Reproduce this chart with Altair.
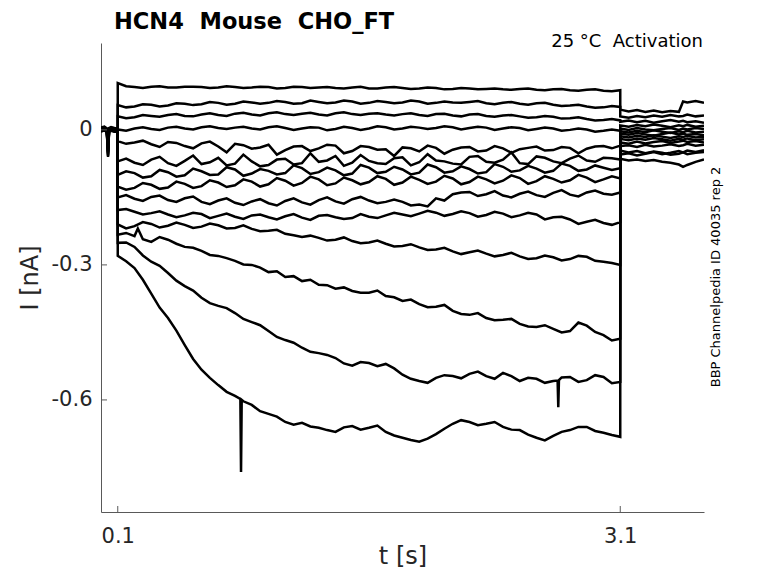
import altair as alt
import pandas as pd

# ---- time bases (s) ----
HOLD_T = [0.0, 0.02, 0.035, 0.042, 0.048, 0.06, 0.08, 0.1]
STEP_T = [0.1, 0.2, 0.3, 0.4, 0.5, 0.6, 0.7, 0.8, 0.9, 1.0, 1.1, 1.2, 1.3, 1.4, 1.5, 1.6,
          1.7, 1.8, 1.9, 2.0, 2.1, 2.2, 2.3, 2.4, 2.5, 2.6, 2.7, 2.8, 2.9, 3.0, 3.1]
MID_T = [0.15, 0.25, 0.35, 0.45, 0.55, 0.65, 0.75, 0.85, 0.95, 1.05, 1.15, 1.25, 1.35, 1.45, 1.55,
         1.65, 1.75, 1.85, 1.95, 2.05, 2.15, 2.25, 2.35, 2.45, 2.55, 2.65, 2.75, 2.85, 2.95, 3.05]
TAIL_T = [3.1, 3.15, 3.2, 3.25, 3.3, 3.35, 3.4, 3.45, 3.475, 3.5, 3.55, 3.6]

# ---- current traces (nA) ----
T1_HOLD = [0.005, 0.007, 0.003, -0.022, 0.004, 0.006, 0.004, 0.003]
T1_STEP = [0.104, 0.095, 0.096, 0.094, 0.096, 0.095, 0.094, 0.095, 0.094, 0.095, 0.093, 0.095, 0.094, 0.093, 0.094, 0.092,
           0.094, 0.093, 0.092, 0.093, 0.091, 0.092, 0.091, 0.090, 0.091, 0.089, 0.090, 0.088, 0.089, 0.087, 0.088]
T1_MID = [0.097, 0.093, 0.097, 0.094, 0.096, 0.093, 0.097, 0.093, 0.096, 0.092, 0.096, 0.093, 0.095, 0.092, 0.096,
          0.092, 0.095, 0.091, 0.094, 0.090, 0.093, 0.090, 0.092, 0.089, 0.092, 0.088, 0.091, 0.087, 0.090, 0.086]
T1_TAIL = [0.045, 0.041, 0.044, 0.040, 0.043, 0.039, 0.042, 0.040, 0.063, 0.061, 0.064, 0.060]

T2_HOLD = [0.003, 0.005, 0.002, -0.028, 0.002, 0.004, 0.003, 0.002]
T2_STEP = [0.055, 0.052, 0.056, 0.054, 0.058, 0.057, 0.060, 0.058, 0.061, 0.060, 0.062, 0.059, 0.062, 0.061, 0.063, 0.060,
           0.062, 0.061, 0.063, 0.060, 0.061, 0.062, 0.059, 0.060, 0.058, 0.059, 0.056, 0.054, 0.052, 0.050, 0.051]
T2_MID = [0.050, 0.057, 0.052, 0.059, 0.055, 0.062, 0.056, 0.063, 0.058, 0.064, 0.058, 0.065, 0.059, 0.065, 0.058,
          0.064, 0.059, 0.065, 0.058, 0.063, 0.060, 0.064, 0.057, 0.062, 0.056, 0.060, 0.053, 0.056, 0.049, 0.053]
T2_TAIL = [0.030, 0.027, 0.031, 0.028, 0.032, 0.029, 0.033, 0.030, 0.031, 0.034, 0.030, 0.032]

T3_HOLD = [0.002, 0.004, 0.000, -0.034, 0.001, 0.003, 0.001, 0.001]
T3_STEP = [0.030, 0.028, 0.031, 0.033, 0.031, 0.034, 0.033, 0.036, 0.034, 0.037, 0.035, 0.036, 0.034, 0.037, 0.035, 0.036,
           0.034, 0.035, 0.033, 0.035, 0.032, 0.034, 0.031, 0.032, 0.030, 0.028, 0.029, 0.026, 0.024, 0.022, 0.021]
T3_MID = [0.026, 0.033, 0.029, 0.035, 0.030, 0.037, 0.031, 0.038, 0.032, 0.039, 0.033, 0.038, 0.032, 0.039, 0.033,
          0.037, 0.032, 0.037, 0.031, 0.036, 0.030, 0.035, 0.029, 0.033, 0.027, 0.031, 0.025, 0.028, 0.021, 0.024]
T3_TAIL = [0.018, 0.021, 0.017, 0.020, 0.016, 0.019, 0.022, 0.018, 0.020, 0.017, 0.019, 0.016]

T4_HOLD = [0.001, 0.002, -0.001, -0.040, 0.000, 0.002, 0.000, 0.000]
T4_STEP = [0.001, 0.003, 0.002, 0.005, 0.003, 0.006, 0.004, 0.005, 0.003, 0.006, 0.004, 0.003, 0.005, 0.002, 0.004, 0.003,
           0.006, 0.003, 0.005, 0.004, 0.006, 0.004, 0.005, 0.003, 0.004, 0.002, 0.003, 0.000, 0.001, -0.002, -0.002]
T4_MID = [-0.002, 0.006, 0.000, 0.007, 0.001, 0.008, 0.002, 0.007, 0.001, 0.008, 0.000, 0.006, -0.001, 0.007, 0.000,
          0.008, 0.001, 0.007, 0.002, 0.008, 0.001, 0.007, 0.000, 0.006, -0.001, 0.005, -0.002, 0.003, -0.004, 0.001]
T4_TAIL = [0.010, 0.007, 0.011, 0.008, 0.012, 0.009, 0.006, 0.010, 0.008, 0.011, 0.007, 0.009]

T5_HOLD = [0.000, 0.001, -0.002, -0.046, -0.001, 0.001, -0.001, -0.001]
T5_STEP = [-0.025, -0.028, -0.032, -0.027, -0.036, -0.030, -0.037, -0.031, -0.042, -0.033, -0.045, -0.036, -0.041, -0.035, -0.047, -0.038,
           -0.043, -0.039, -0.048, -0.040, -0.044, -0.038, -0.046, -0.041, -0.043, -0.037, -0.045, -0.040, -0.042, -0.036, -0.035]
T5_MID = [-0.031, -0.024, -0.038, -0.029, -0.041, -0.026, -0.050, -0.034, -0.039, -0.055, -0.037, -0.047, -0.033, -0.052, -0.036,
          -0.044, -0.058, -0.041, -0.035, -0.053, -0.039, -0.048, -0.036, -0.051, -0.040, -0.046, -0.038, -0.052, -0.037, -0.041]
T5_TAIL = [0.003, 0.000, 0.004, 0.001, -0.001, 0.002, 0.004, 0.000, 0.003, 0.001, 0.004, 0.002]

T6_HOLD = [-0.001, 0.000, -0.003, -0.052, -0.002, 0.000, -0.002, -0.002]
T6_STEP = [-0.070, -0.073, -0.066, -0.074, -0.069, -0.076, -0.062, -0.075, -0.070, -0.078, -0.064, -0.074, -0.071, -0.058, -0.073, -0.069,
           -0.076, -0.061, -0.072, -0.068, -0.075, -0.060, -0.071, -0.066, -0.074, -0.059, -0.070, -0.064, -0.068, -0.062, -0.066]
T6_MID = [-0.064, -0.078, -0.060, -0.080, -0.057, -0.072, -0.079, -0.055, -0.081, -0.066, -0.077, -0.052, -0.068, -0.080, -0.056,
          -0.074, -0.063, -0.079, -0.054, -0.070, -0.077, -0.058, -0.073, -0.050, -0.076, -0.062, -0.074, -0.057, -0.071, -0.063]
T6_TAIL = [-0.003, -0.006, -0.002, -0.005, -0.001, -0.004, -0.007, -0.003, -0.005, -0.002, -0.006, -0.004]

T7_HOLD = [-0.002, -0.001, -0.004, -0.058, -0.003, -0.001, -0.003, -0.003]
T7_STEP = [-0.100, -0.096, -0.103, -0.094, -0.101, -0.092, -0.099, -0.088, -0.097, -0.091, -0.096, -0.085, -0.094, -0.090, -0.097, -0.084,
           -0.093, -0.088, -0.095, -0.083, -0.092, -0.087, -0.094, -0.082, -0.090, -0.086, -0.091, -0.080, -0.088, -0.084, -0.085]
T7_MID = [-0.092, -0.106, -0.089, -0.104, -0.086, -0.100, -0.083, -0.102, -0.087, -0.099, -0.079, -0.098, -0.084, -0.101, -0.078,
          -0.096, -0.082, -0.099, -0.077, -0.095, -0.081, -0.097, -0.076, -0.093, -0.080, -0.095, -0.075, -0.091, -0.079, -0.089]
T7_TAIL = [-0.008, -0.011, -0.007, -0.010, -0.013, -0.009, -0.006, -0.010, -0.008, -0.011, -0.009, -0.012]

T8_HOLD = [0.004, 0.006, 0.002, -0.025, 0.003, 0.005, 0.002, 0.002]
T8_STEP = [-0.126, -0.129, -0.122, -0.128, -0.120, -0.125, -0.117, -0.123, -0.115, -0.121, -0.113, -0.118, -0.110, -0.119, -0.112, -0.116,
           -0.109, -0.117, -0.111, -0.115, -0.108, -0.116, -0.110, -0.113, -0.107, -0.114, -0.109, -0.112, -0.106, -0.110, -0.108]
T8_MID = [-0.133, -0.118, -0.131, -0.115, -0.129, -0.112, -0.127, -0.110, -0.126, -0.107, -0.124, -0.104, -0.123, -0.106, -0.121,
          -0.103, -0.122, -0.104, -0.120, -0.102, -0.121, -0.104, -0.119, -0.101, -0.120, -0.103, -0.117, -0.100, -0.116, -0.103]
T8_TAIL = [-0.014, -0.017, -0.013, -0.016, -0.012, -0.015, -0.018, -0.014, -0.016, -0.013, -0.017, -0.015]

T9_HOLD = [0.002, 0.004, 0.001, -0.031, 0.002, 0.003, 0.001, 0.001]
T9_STEP = [-0.150, -0.153, -0.149, -0.156, -0.152, -0.160, -0.157, -0.162, -0.159, -0.163, -0.158, -0.161, -0.156, -0.159, -0.154, -0.157,
           -0.160, -0.160, -0.166, -0.152, -0.143, -0.138, -0.143, -0.146, -0.142, -0.145, -0.140, -0.144, -0.139, -0.142, -0.139]
T9_MID = [-0.145, -0.158, -0.146, -0.160, -0.148, -0.165, -0.152, -0.167, -0.154, -0.168, -0.152, -0.166, -0.150, -0.164, -0.149,
          -0.163, -0.155, -0.168, -0.170, -0.157, -0.139, -0.147, -0.136, -0.150, -0.137, -0.149, -0.134, -0.148, -0.135, -0.144]
T9_TAIL = [-0.020, -0.023, -0.019, -0.022, -0.018, -0.021, -0.024, -0.020, -0.022, -0.019, -0.023, -0.021]

T10_HOLD = [0.000, 0.003, -0.001, -0.037, 0.001, 0.002, 0.000, 0.000]
T10_STEP = [-0.178, -0.182, -0.185, -0.188, -0.190, -0.187, -0.191, -0.193, -0.190, -0.194, -0.192, -0.195, -0.191, -0.194, -0.196, -0.193,
            -0.190, -0.188, -0.186, -0.184, -0.187, -0.185, -0.189, -0.186, -0.190, -0.188, -0.194, -0.199, -0.204, -0.207, -0.205]
T10_MID = [-0.176, -0.188, -0.181, -0.194, -0.184, -0.196, -0.186, -0.198, -0.188, -0.199, -0.187, -0.200, -0.189, -0.198, -0.187,
           -0.196, -0.184, -0.192, -0.180, -0.191, -0.181, -0.193, -0.182, -0.194, -0.184, -0.199, -0.193, -0.209, -0.200, -0.211]
T10_TAIL = [-0.028, -0.031, -0.026, -0.030, -0.027, -0.025, -0.029, -0.026, -0.024, -0.027, -0.025, -0.028]

T11_HOLD = [-0.001, 0.002, -0.002, -0.043, 0.000, 0.001, -0.001, -0.001]
T11_STEP = [-0.210, -0.214, -0.209, -0.213, -0.211, -0.215, -0.212, -0.218, -0.220, -0.224, -0.231, -0.238, -0.240, -0.244, -0.247, -0.250,
            -0.253, -0.258, -0.261, -0.266, -0.270, -0.272, -0.275, -0.278, -0.281, -0.285, -0.283, -0.287, -0.282, -0.293, -0.300]
T11_MID = [-0.219, -0.205, -0.217, -0.206, -0.218, -0.208, -0.219, -0.212, -0.225, -0.222, -0.234, -0.235, -0.246, -0.239, -0.252,
           -0.246, -0.259, -0.254, -0.267, -0.262, -0.276, -0.268, -0.281, -0.273, -0.287, -0.279, -0.290, -0.280, -0.291, -0.296]
T11_TAIL = [-0.036, -0.034, -0.038, -0.033, -0.037, -0.035, -0.032, -0.036, -0.034, -0.031, -0.035, -0.033]

T12_HOLD = [-0.002, 0.001, -0.003, -0.049, -0.001, 0.000, -0.002, -0.002]
T12_STEP = [-0.233, -0.236, -0.249, -0.244, -0.260, -0.269, -0.280, -0.291, -0.300, -0.316, -0.327, -0.336, -0.344, -0.353, -0.358, -0.362,
            -0.369, -0.380, -0.387, -0.393, -0.402, -0.411, -0.418, -0.422, -0.431, -0.438, -0.442, -0.447, -0.435, -0.456, -0.464]
T12_MID = [-0.229, -0.243, -0.238, -0.253, -0.262, -0.278, -0.285, -0.299, -0.306, -0.314, -0.325, -0.333, -0.345, -0.350, -0.362,
           -0.357, -0.372, -0.377, -0.394, -0.389, -0.409, -0.407, -0.423, -0.420, -0.437, -0.434, -0.450, -0.428, -0.449, -0.468]
T12_TAIL = [-0.046, -0.050, -0.047, -0.052, -0.048, -0.051, -0.055, -0.053, -0.050, -0.054, -0.051, -0.049]

T13_HOLD = [-0.003, 0.000, -0.004, -0.055, -0.002, -0.001, -0.003, -0.003]
T13_STEP = [-0.251, -0.260, -0.293, -0.318, -0.347, -0.373, -0.391, -0.407, -0.427, -0.447, -0.467, -0.484, -0.496, -0.507, -0.524, -0.518,
            -0.520, -0.544, -0.558, -0.551, -0.547, -0.542, -0.547, -0.540, -0.558, -0.553, -0.558, -0.549, -0.556, -0.549, -0.560]
T13_MID = [-0.250, -0.279, -0.302, -0.335, -0.357, -0.385, -0.396, -0.420, -0.434, -0.460, -0.473, -0.493, -0.500, -0.519, -0.516,
           -0.525, -0.530, -0.553, -0.562, -0.545, -0.552, -0.537, -0.553, -0.547, -0.551, -0.562, -0.550, -0.560, -0.545, -0.563]
T13_TAIL = [-0.055, -0.052, -0.057, -0.053, -0.049, -0.054, -0.051, -0.047, -0.050, -0.046, -0.049, -0.045]

T14_HOLD = [-0.004, -0.001, -0.005, -0.060, -0.003, -0.002, -0.004, -0.004]
T14_STEP = [-0.280, -0.307, -0.364, -0.418, -0.478, -0.533, -0.567, -0.591, -0.611, -0.631, -0.649, -0.651, -0.662, -0.671, -0.658, -0.662,
            -0.671, -0.684, -0.693, -0.676, -0.653, -0.649, -0.653, -0.660, -0.667, -0.684, -0.680, -0.667, -0.660, -0.673, -0.682]
T14_MID = [-0.292, -0.333, -0.395, -0.446, -0.509, -0.551, -0.582, -0.603, -0.625, -0.637, -0.655, -0.659, -0.667, -0.661, -0.666,
           -0.657, -0.679, -0.689, -0.686, -0.664, -0.645, -0.656, -0.649, -0.666, -0.677, -0.690, -0.671, -0.660, -0.669, -0.678]
T14_TAIL = [-0.064, -0.068, -0.066, -0.069, -0.067, -0.071, -0.073, -0.077, -0.082, -0.078, -0.071, -0.066]

# short artefact spikes seen in the recording
SPIKE_TRACE = ["T12", "T14", "T14", "T14", "T13", "T13", "T13"]
SPIKE_T = [0.22, 0.832, 0.836, 0.840, 2.726, 2.730, 2.734]
SPIKE_I = [-0.219, -0.598, -0.760, -0.600, -0.557, -0.616, -0.556]

# axis ticks and texts
X_TICKS = [0.1, 3.1]
Y_TICKS = [-0.6, -0.3, 0.0]
TITLE = "HCN4\u00a0\u00a0Mouse\u00a0\u00a0CHO_FT"
CONDITION = "25\u00a0°C\u00a0\u00a0Activation"
SOURCE = "BBP Channelpedia ID 40035 rep 2"

TRACES = [
    ("T1", T1_HOLD, T1_STEP, T1_MID, T1_TAIL), ("T2", T2_HOLD, T2_STEP, T2_MID, T2_TAIL),
    ("T3", T3_HOLD, T3_STEP, T3_MID, T3_TAIL), ("T4", T4_HOLD, T4_STEP, T4_MID, T4_TAIL),
    ("T5", T5_HOLD, T5_STEP, T5_MID, T5_TAIL), ("T6", T6_HOLD, T6_STEP, T6_MID, T6_TAIL),
    ("T7", T7_HOLD, T7_STEP, T7_MID, T7_TAIL), ("T8", T8_HOLD, T8_STEP, T8_MID, T8_TAIL),
    ("T9", T9_HOLD, T9_STEP, T9_MID, T9_TAIL), ("T10", T10_HOLD, T10_STEP, T10_MID, T10_TAIL),
    ("T11", T11_HOLD, T11_STEP, T11_MID, T11_TAIL), ("T12", T12_HOLD, T12_STEP, T12_MID, T12_TAIL),
    ("T13", T13_HOLD, T13_STEP, T13_MID, T13_TAIL), ("T14", T14_HOLD, T14_STEP, T14_MID, T14_TAIL),
]

rows = []
for name, hold, step, mid, tail in TRACES:
    pts = list(zip(HOLD_T, hold))
    body = list(zip(STEP_T, step)) + list(zip(MID_T, mid)) + [
        (t, v) for tr, t, v in zip(SPIKE_TRACE, SPIKE_T, SPIKE_I) if tr == name
    ]
    body.sort(key=lambda p: p[0])
    pts += body + list(zip(TAIL_T, tail))
    for k, (t, v) in enumerate(pts):
        rows.append({"trace": name, "t": t, "i": v, "seq": k})
df = pd.DataFrame(rows)

W, H = 603, 469
AX = "#595959"
TXT = "#262626"
FONT = "DejaVu Sans"

xscale = alt.Scale(domain=[0, 3.6], nice=False, zero=False)
yscale = alt.Scale(domain=[-0.849, 0.193], nice=False, zero=False)

x_enc = alt.X("t:Q", scale=xscale, axis=alt.Axis(
    values=X_TICKS, format=".1f", ticks=False, tickSize=0, grid=False,
    labelFontSize=21, labelColor=TXT, labelPadding=13, labelFont=FONT,
    domainColor=AX, domainWidth=1,
    title="t [s]", titleFontSize=24, titleFontWeight="normal", titleColor=TXT,
    titleFont=FONT, titleX=W / 2, titleY=51, titleBaseline="alphabetic", titleAlign="center"))
y_enc = alt.Y("i:Q", scale=yscale, axis=alt.Axis(
    values=Y_TICKS, ticks=False, tickSize=0, grid=False,
    labelExpr="datum.value == 0 ? '0' : '-' + format(abs(datum.value), '.1f')",
    labelFontSize=21, labelColor=TXT, labelPadding=9, labelFont=FONT,
    domainColor=AX, domainWidth=1,
    title="I [nA]", titleFontSize=24, titleFontWeight="normal", titleColor=TXT,
    titleFont=FONT, titleX=-64, titleY=H / 2, titleAngle=270,
    titleBaseline="alphabetic", titleAlign="center"))

lines = alt.Chart(df).mark_line(color="black", strokeWidth=2.5, clip=True).encode(
    x=x_enc, y=y_enc, detail="trace:N", order="seq:Q")

xt = alt.Chart(pd.DataFrame({"t": X_TICKS})).mark_rule(color=AX, strokeWidth=1).encode(
    x=alt.X("t:Q", scale=xscale), y=alt.value(H), y2=alt.value(H - 6))
yt = alt.Chart(pd.DataFrame({"i": Y_TICKS})).mark_rule(color=AX, strokeWidth=1).encode(
    y=alt.Y("i:Q", scale=yscale), x=alt.value(0), x2=alt.value(6))

one = pd.DataFrame({"k": [0]})
title_t = alt.Chart(one).mark_text(
    text=TITLE, font=FONT, fontSize=22.5, fontWeight="bold", color="black",
    align="left", baseline="alphabetic").encode(x=alt.value(13), y=alt.value(-14))
cond_t = alt.Chart(one).mark_text(
    text=CONDITION, font=FONT, fontSize=18, color="black",
    align="right", baseline="alphabetic").encode(x=alt.value(602), y=alt.value(4))
src_t = alt.Chart(one).mark_text(
    text=SOURCE, font=FONT, fontSize=13, color="black", angle=270,
    align="center", baseline="middle").encode(x=alt.value(615), y=alt.value(234))

chart = alt.layer(lines, xt, yt, title_t, cond_t, src_t).properties(
    width=W, height=H,
    autosize=alt.AutoSizeParams(type="none"),
    padding={"left": 93, "top": 35, "right": 58, "bottom": 56},
).configure_view(strokeWidth=0)

chart.save("out.html", embed_options={"renderer": "svg", "actions": False})
